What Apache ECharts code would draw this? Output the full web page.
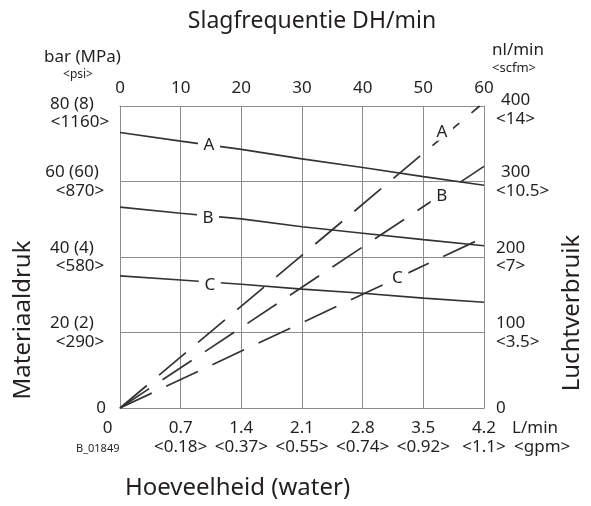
<!DOCTYPE html>
<html><head><meta charset="utf-8">
<script src="https://cdn.jsdelivr.net/npm/echarts@6/dist/echarts.min.js"></script>
<style>html,body{margin:0;padding:0;background:#fff}#c{width:591px;height:506px}</style>
</head><body><div id="c"></div>
<script>
// Slagfrequentie (DH/min) vs Materiaaldruk (bar) - solid lines
const freq = [0, 10, 20, 30, 40, 50, 60];
const pressA = [73.0, 70.7, 68.5, 66.0, 63.7, 61.3, 59.0];
const pressB = [53.2, 51.6, 50.1, 48.0, 46.3, 44.6, 43.0];
const pressC = [35.0, 33.9, 32.8, 31.5, 30.4, 29.1, 28.0];
// Hoeveelheid (L/min) vs Luchtverbruik (nl/min) - dashed lines
const flowA = [0, 4.15], airA = [0, 400];
const flowB = [0, 4.2],  airB = [0, 320];
const flowC = [0, 4.2],  airC = [0, 226];
// tick labels
const topTicks = ['0', '10', '20', '30', '40', '50', '60'];
const leftTicks = ['0', '20 (2)', '40 (4)', '60 (60)', '80 (8)'];
const leftSub = ['', '<290>', '<580>', '<870>', '<1160>'];
const rightTicks = ['0', '100', '200', '300', '400'];
const rightSub = ['', '<3.5>', '<7>', '<10.5>', '<14>'];
const bottomTicks = ['0', '0.7', '1.4', '2.1', '2.8', '3.5', '4.2'];
const bottomSub = ['', '<0.18>', '<0.37>', '<0.55>', '<0.74>', '<0.92>', '<1.1>'];
// curve letters (data coordinates)
const solidLabels = [['A', 14.67, 69.7], ['B', 14.5, 50.4], ['C', 14.8, 32.6]];
const dashLabels = [['A', 3.715, 366], ['B', 3.712, 280.5], ['C', 3.2, 172.4]];

const FF = '"Noto Sans", sans-serif';
const TXT = '#231f20';
const LINE = '#333333';
const GRIDC = '#8c8c8c';

function zip(a, b) { return a.map((v, i) => [v, b[i]]); }
function mp(lbl) {
  return {
    silent: true,
    symbol: 'rect',
    symbolSize: [22, 18],
    itemStyle: { color: '#fff' },
    label: { show: true, position: 'inside', formatter: lbl[0], color: TXT, fontSize: 17, fontFamily: FF },
    data: [{ coord: [lbl[1], lbl[2]] }]
  };
}
const solids = [pressA, pressB, pressC].map((d, k) => ({
  type: 'line', xAxisIndex: 0, yAxisIndex: 0, data: zip(freq, d),
  symbol: 'none', lineStyle: { color: LINE, width: 1.6 }, z: 3,
  markPoint: mp(solidLabels[k])
}));
const dashes = [[flowA, airA], [flowB, airB], [flowC, airC]].map((p, k) => ({
  type: 'line', xAxisIndex: 1, yAxisIndex: 1, data: zip(p[0], p[1]),
  symbol: 'none', lineStyle: { color: LINE, width: 1.7, type: [35, 16] }, z: 3,
  markPoint: mp(dashLabels[k])
}));

const base = { fontSize: 17, lineHeight: 18.5, color: TXT, fontFamily: FF };
const chart = echarts.init(document.getElementById('c'), null, { renderer: 'canvas' });
chart.setOption({
  animation: false,
  textStyle: { fontFamily: FF },
  grid: { left: 120, right: 107, top: 106, bottom: 98, containLabel: false },
  xAxis: [
    { type: 'value', position: 'top', min: 0, max: 60, interval: 10,
      axisLine: { show: true, onZero: false, lineStyle: { color: GRIDC, width: 1 } },
      axisTick: { show: false },
      splitLine: { show: true, lineStyle: { color: GRIDC, width: 1 } },
      axisLabel: { margin: 9, fontSize: 17, lineHeight: 18, color: TXT, fontFamily: FF,
        formatter: (v, i) => topTicks[i] } },
    { type: 'value', position: 'bottom', min: 0, max: 4.2, interval: 0.7,
      axisLine: { show: true, onZero: false, lineStyle: { color: GRIDC, width: 1 } },
      axisTick: { show: false }, splitLine: { show: false },
      axisLabel: { margin: 11, color: TXT, fontFamily: FF, align: 'center',
        formatter: (v, i) => i === 0 ? '{z|0}' : '{a|' + bottomTicks[i] + '}\n{b|' + bottomSub[i] + '}',
        rich: {
          a: Object.assign({}, base),
          b: Object.assign({}, base),
          z: Object.assign({ padding: [0, 25, 0, 0] }, base)
        } } }
  ],
  yAxis: [
    { type: 'value', position: 'left', min: 0, max: 80, interval: 20,
      axisLine: { show: true, onZero: false, lineStyle: { color: GRIDC, width: 1 } },
      axisTick: { show: false },
      splitLine: { show: true, lineStyle: { color: GRIDC, width: 1 } },
      axisLabel: { margin: 40, align: 'center', color: TXT, fontFamily: FF,
        formatter: (v, i) => i === 0 ? '{z|0}' :
          (i === 4 ? '{e| }\n' : '') + '{a|' + leftTicks[i] + '}\n{b|' + leftSub[i] + '}',
        rich: {
          a: Object.assign({ padding: [0, 16, 0, 0] }, base),
          b: Object.assign({}, base),
          e: { fontSize: 10, lineHeight: 14, fontFamily: FF },
          z: Object.assign({ padding: [0, 0, 0, 42] }, base)
        } } },
    { type: 'value', position: 'right', min: 0, max: 400, interval: 100,
      axisLine: { show: true, onZero: false, lineStyle: { color: GRIDC, width: 1 } },
      axisTick: { show: false }, splitLine: { show: false },
      axisLabel: { margin: 12, align: 'left', color: TXT, fontFamily: FF,
        formatter: (v, i) => i === 0 ? '{z|0}' :
          (i === 4 ? '{e| }\n' : '') + '{' + (i >= 3 ? 't' : 'a') + '|' + rightTicks[i] + '}\n{b|' + rightSub[i] + '}',
        rich: {
          a: Object.assign({}, base),
          t: Object.assign({ padding: [0, 0, 0, 5] }, base),
          b: Object.assign({}, base),
          e: { fontSize: 6, lineHeight: 7, fontFamily: FF },
          z: Object.assign({}, base)
        } } }
  ],
  graphic: [
    { type: 'text', x: 312, y: 21, silent: true,
      style: { text: 'Slagfrequentie DH/min', font: '23px ' + FF, fill: TXT, align: 'center', verticalAlign: 'middle' } },
    { type: 'text', x: 82.5, y: 57, silent: true,
      style: { text: 'bar (MPa)', font: '17px ' + FF, fill: TXT, align: 'center', verticalAlign: 'middle' } },
    { type: 'text', x: 78, y: 75, silent: true,
      style: { text: '<psi>', font: '12px ' + FF, fill: TXT, align: 'center', verticalAlign: 'middle' } },
    { type: 'text', x: 492, y: 50, silent: true,
      style: { text: 'nl/min', font: '17px ' + FF, fill: TXT, align: 'left', verticalAlign: 'middle' } },
    { type: 'text', x: 492, y: 68, silent: true,
      style: { text: '<scfm>', font: '13px ' + FF, fill: TXT, align: 'left', verticalAlign: 'middle' } },
    { type: 'text', x: 512, y: 428, silent: true,
      style: { text: 'L/min', font: '17px ' + FF, fill: TXT, align: 'left', verticalAlign: 'middle' } },
    { type: 'text', x: 514, y: 447, silent: true,
      style: { text: '<gpm>', font: '17px ' + FF, fill: TXT, align: 'left', verticalAlign: 'middle' } },
    { type: 'text', x: 76, y: 449, silent: true,
      style: { text: 'B_01849', font: '11px ' + FF, fill: TXT, align: 'left', verticalAlign: 'middle' } },
    { type: 'text', x: 237.5, y: 488, silent: true,
      style: { text: 'Hoeveelheid (water)', font: '24px ' + FF, fill: TXT, align: 'center', verticalAlign: 'middle' } },
    { type: 'text', x: 23, y: 320, rotation: Math.PI / 2, silent: true,
      style: { text: 'Materiaaldruk', font: '24px ' + FF, fill: TXT, align: 'center', verticalAlign: 'middle' } },
    { type: 'text', x: 572, y: 313, rotation: Math.PI / 2, silent: true,
      style: { text: 'Luchtverbruik', font: '24px ' + FF, fill: TXT, align: 'center', verticalAlign: 'middle' } }
  ],
  series: solids.concat(dashes)
});
</script>
</body></html>
